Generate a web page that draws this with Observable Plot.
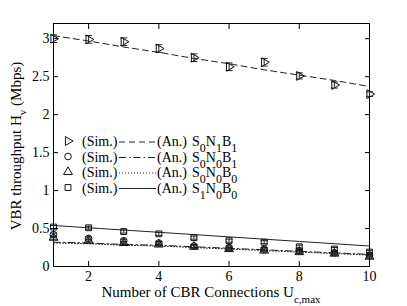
<!DOCTYPE html>
<html><head><meta charset="utf-8">
<script src="https://cdn.jsdelivr.net/npm/d3@7"></script>
<script src="https://cdn.jsdelivr.net/npm/@observablehq/plot@0.6"></script>
<style>body{margin:0;background:#fff} #chart{width:407px;height:306px}</style>
</head><body><div id="chart"></div>
<script>
// ---- data ----
const connections = [1, 2, 3, 4, 5, 6, 7, 8, 9, 10];
const simS0N1B1 = [3.00, 2.99, 2.96, 2.87, 2.75, 2.63, 2.69, 2.51, 2.39, 2.27];
const errS0N1B1 = [0.05, 0.05, 0.05, 0.05, 0.05, 0.05, 0.05, 0.04, 0.04, 0.03];
const anS0N1B1  = [3.04, 2.97, 2.89, 2.82, 2.74, 2.67, 2.59, 2.52, 2.45, 2.37];
const simS0N0B1 = [0.42, 0.37, 0.34, 0.31, 0.27, 0.25, 0.23, 0.21, 0.18, 0.15];
const anS0N0B1  = [0.32, 0.31, 0.29, 0.28, 0.26, 0.24, 0.22, 0.20, 0.18, 0.16];
const simS0N0B0 = [0.38, 0.34, 0.31, 0.29, 0.26, 0.23, 0.21, 0.19, 0.17, 0.13];
const anS0N0B0  = [0.31, 0.30, 0.28, 0.27, 0.25, 0.23, 0.21, 0.19, 0.17, 0.15];
const simS1N0B0 = [0.52, 0.51, 0.46, 0.43, 0.38, 0.34, 0.32, 0.26, 0.23, 0.19];
const anS1N0B0  = [0.54, 0.51, 0.48, 0.45, 0.42, 0.39, 0.36, 0.33, 0.30, 0.27];
const errLow = 0.02;
const xTicks = [2, 4, 6, 8, 10];
const yTicks = [0, 0.5, 1, 1.5, 2, 2.5, 3];
const yTickLabels = ["0", "0.5", "1", "1.5", "2", "2.5", "3"];
const seriesNames = [["S","0","N","1","B","1"], ["S","0","N","0","B","1"], ["S","0","N","0","B","0"], ["S","1","N","0","B","0"]];

// ---- build tables ----
const series = [
  {key: "S0N1B1", sim: simS0N1B1, an: anS0N1B1, err: errS0N1B1, symbol: "triangle", rotate: 90, dash: "6,4"},
  {key: "S0N0B1", sim: simS0N0B1, an: anS0N0B1, err: connections.map(() => errLow), symbol: "circle", rotate: 0, dash: "7,3,1.5,3"},
  {key: "S0N0B0", sim: simS0N0B0, an: anS0N0B0, err: connections.map(() => errLow), symbol: "triangle", rotate: 0, dash: "1,2"},
  {key: "S1N0B0", sim: simS1N0B0, an: anS1N0B0, err: connections.map(() => errLow), symbol: "square", rotate: 0, dash: null}
];
const capSymbol = {draw(ctx, size) { const r = 3.5; ctx.moveTo(-r, 0); ctx.lineTo(r, 0); }};

const marks = [Plot.frame({stroke: "#000", strokeWidth: 1})];
for (const s of series) {
  const rows = connections.map((x, i) => ({x, sim: s.sim[i], an: s.an[i], lo: s.sim[i] - s.err[i], hi: s.sim[i] + s.err[i]}));
  marks.push(Plot.line(rows, {x: "x", y: "an", stroke: "#222", strokeWidth: 1, strokeDasharray: s.dash}));
  marks.push(Plot.ruleX(rows, {x: "x", y1: "lo", y2: "hi", stroke: "#222", strokeWidth: 1}));
  marks.push(Plot.dot(rows, {x: "x", y: "lo", symbol: capSymbol, stroke: "#222", strokeWidth: 1}));
  marks.push(Plot.dot(rows, {x: "x", y: "hi", symbol: capSymbol, stroke: "#222", strokeWidth: 1}));
  marks.push(Plot.dot(rows, {x: "x", y: "sim", symbol: s.symbol, rotate: s.rotate, r: 3.3, stroke: "#111", strokeWidth: 1, fill: "none"}));
}
marks.push(
  Plot.axisX(xTicks, {anchor: "bottom", tickSize: -5, tickPadding: 10, label: null}),
  Plot.axisX(xTicks, {anchor: "top", tickSize: -5, tickFormat: () => "", label: null}),
  Plot.axisY(yTicks, {anchor: "left", tickSize: -5, tickPadding: 9, tickFormat: (d) => yTickLabels[yTicks.indexOf(d)], label: null}),
  Plot.axisY(yTicks, {anchor: "right", tickSize: -5, tickFormat: () => "", label: null})
);

const plot = Plot.plot({
  width: 407, height: 306,
  marginLeft: 53, marginRight: 38, marginTop: 23, marginBottom: 40,
  style: {fontFamily: "'Liberation Serif', serif", fontSize: "14px", color: "#000", background: "#fff"},
  x: {domain: [1, 10]},
  y: {domain: [0, 3.2]},
  marks
});
document.getElementById("chart").appendChild(plot);

// ---- labels & legend ----
const svg = d3.select(plot);
const font = "Liberation Serif";
const xl = svg.append("text").attr("x", 211).attr("y", 297).attr("text-anchor", "middle")
  .attr("font-family", font).attr("font-size", 15).attr("fill", "#000");
xl.append("tspan").text("Number of CBR Connections U");
xl.append("tspan").attr("font-size", 11).attr("dy", 6).text("c,max");

const yl = svg.append("text").attr("transform", "translate(21,146) rotate(-90)").attr("text-anchor", "middle")
  .attr("font-family", font).attr("font-size", 15).attr("fill", "#000");
yl.append("tspan").text("VBR throughput H");
yl.append("tspan").attr("font-size", 11).attr("dy", 5).text("v");
yl.append("tspan").attr("dy", -5).text(" (Mbps)");

const legendY0 = 141, legendStep = 15.5;
series.forEach((s, i) => {
  const y = legendY0 + i * legendStep;
  const g = svg.append("g").attr("text-anchor", "start").attr("font-family", font).attr("font-size", 14).attr("fill", "#000");
  const sym = d3.symbol().type(s.symbol === "circle" ? d3.symbolCircle : s.symbol === "square" ? d3.symbolSquare : d3.symbolTriangle).size(Math.PI * 3.3 * 3.3);
  g.append("path").attr("d", sym()).attr("transform", `translate(68,${y}) rotate(${s.rotate})`)
    .attr("fill", "none").attr("stroke", "#111");
  g.append("text").attr("x", 82).attr("y", y + 5).text("(Sim.)");
  g.append("line").attr("x1", 119).attr("x2", 156).attr("y1", y + 1).attr("y2", y + 1)
    .attr("stroke", "#222").attr("stroke-dasharray", s.dash);
  g.append("text").attr("x", 157).attr("y", y + 5).text("(An.)");
  const t = g.append("text").attr("x", 192).attr("y", y + 5);
  const parts = seriesNames[i];
  for (let k = 0; k < parts.length; k += 2) {
    t.append("tspan").attr("dy", k === 0 ? 0 : -6).text(parts[k]);
    t.append("tspan").attr("dy", 6).attr("font-size", 12).text(parts[k + 1]);
  }
});
</script>
</body></html>
